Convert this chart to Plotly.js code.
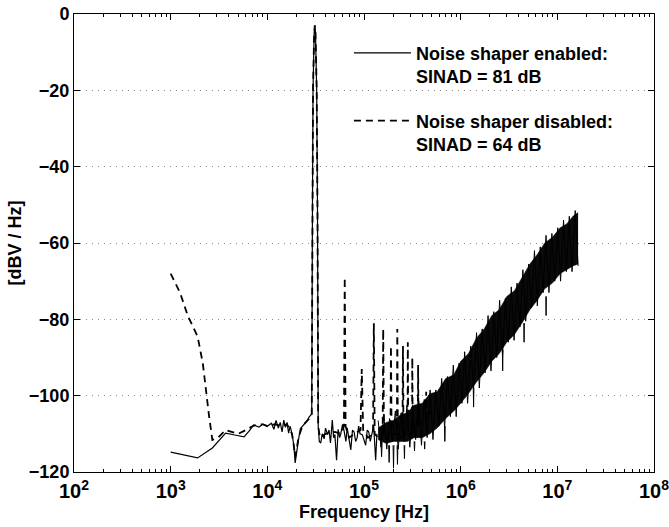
<!DOCTYPE html>
<html>
<head>
<meta charset="utf-8">
<script src="https://cdn.plot.ly/plotly-3.0.1.min.js"></script>
<style>html,body{margin:0;padding:0;background:#fff;}#chart{width:669px;height:527px;}</style>
</head>
<body>
<div id="chart"></div>
<script>
// Noise shaper enabled (solid) — low-frequency part, fundamental and low noise floor
const enabledFreq = [1000, 1900, 2700, 3700, 4600, 5750, 6500, 7200, 8200, 9000, 10000, 11000, 11700, 12300, 13000, 13600, 14200, 14800, 15400, 16000, 16600, 17200, 18000, 18800, 19400, 20000, 21000, 22000, 23000, 24600, 26000, 27000, 28000, 28800, 29300, 29700, 30500, 31000, 31500, 32400, 33000, 33600, 34500, 35700, 37000, 38700, 40000, 42000, 43500, 45000, 47000, 48500, 50000, 52000, 54000, 56000, 57500, 60000, 62000, 65000, 67000, 70000, 73000, 76000, 79000, 82000, 85000, 88000, 91000, 96000, 100000, 104000, 108000, 112000, 116000, 120000, 126000, 132000, 136000];
const enabledDb = [-114.8, -116.3, -113.7, -109.8, -110.3, -110.8, -109.2, -107.7, -108.2, -107.5, -108.0, -107.2, -108.8, -106.5, -108.5, -107.0, -109.5, -106.4, -108.3, -107.0, -109.8, -108.0, -110.0, -113.0, -117.6, -115.0, -111.6, -108.6, -108.0, -107.0, -106.5, -105.6, -105.0, -104.8, -50, -20, -5, -3, -5, -20, -50, -108, -112.0, -112.4, -110.0, -111.3, -108.5, -110.2, -109.0, -112.4, -106.4, -111.0, -110.2, -116.9, -108.8, -111.0, -110.0, -107.5, -109.0, -112.0, -108.4, -111.0, -114.2, -109.0, -109.5, -112.0, -111.0, -108.0, -110.0, -110.2, -111.5, -113.0, -109.0, -109.5, -112.0, -110.0, -108.0, -116.9, -110.0];

// Noise shaper enabled — shaped noise rising with frequency (read as a zigzag between band edges)
const enabledBandFreq = [140000, 150000, 160000, 172000, 184000, 197000, 211000, 226000, 242000, 260000, 278000, 298000, 320000, 342000, 367000, 393000, 420000, 450000, 483000, 517000, 554000, 594000, 636000, 682000, 730000, 783000, 839000, 899000, 963000, 1030000, 1100000, 1180000, 1270000, 1360000, 1460000, 1560000, 1670000, 1790000, 1920000, 2060000, 2200000, 2360000, 2530000, 2710000, 2900000, 3110000, 3340000, 3570000, 3830000, 4100000, 4400000, 4710000, 5050000, 5410000, 5800000, 6210000, 6660000, 7130000, 7640000, 8190000, 8780000, 9400000, 10100000, 10800000, 11600000, 12400000, 13300000, 14200000, 15300000, 16400000];
const enabledBandDb = [-106.5, -113.5, -105, -114, -106, -112, -104, -114, -104.5, -112, -102.5, -113.5, -102.5, -111.5, -100.5, -113, -101, -111, -98.5, -111.5, -98.5, -108, -95.5, -108.5, -95, -105.5, -92, -105.5, -91.5, -102, -88.5, -102, -87, -98, -83.5, -98, -82.5, -94, -79, -93.5, -78, -90, -75, -89.5, -74.5, -86, -71.5, -85.5, -70.5, -82, -67, -80.5, -65.5, -77, -62, -76.5, -61, -73, -58, -73, -57.5, -70, -56, -70, -54, -67.5, -53, -67.5, -51.5, -66];

// Dense core of the noise band: upper and lower envelopes
const bandFreq = [140000, 170000, 200000, 240000, 280000, 330000, 400000, 480000, 570000, 700000, 850000, 1000000, 1200000, 1450000, 1750000, 2100000, 2500000, 3000000, 3600000, 4300000, 5200000, 6200000, 7400000, 8900000, 10700000, 12500000, 14500000, 16400000];
const bandUpper = [-108.5, -107, -106.5, -105, -104.5, -102.5, -102, -99.5, -99, -95.5, -94.5, -91, -89, -85, -82.5, -79, -77.5, -74, -72.5, -69, -65.5, -63, -60, -58.5, -56, -55, -53, -52];
const bandLower = [-111.5, -112.5, -112, -112, -112, -111, -111, -110, -108.5, -106, -104, -102, -99.5, -96.5, -94, -91, -89, -86, -84, -81, -77.5, -75, -72, -70.5, -68, -67, -66, -65.5];

// Downward noise spikes below the band (null separates spikes)
const spikeFreq = [150000, 152000, 154000, null, 180000, 182000, 184000, null, 200000, 202000, 204000, null, 220000, 222000, 224000, null, 260000, 262000, 264000, null, 330000, 333000, 336000, null, 420000, 424000, 428000, null, 680000, 686000, 692000, null, 1350000, 1360000, 1370000, null, 2700000, 2720000, 2740000, null, 4500000, 4530000, 4560000, null, 7600000, 7650000, 7700000];
const spikeDb = [-112, -116, -112, null, -113, -117.5, -113, null, -113, -119, -113, null, -113, -118, -113, null, -113, -116.5, -113, null, -112, -114.5, -112, null, -112, -114, -112, null, -108, -112, -108, null, -98, -103, -98, null, -88, -93.5, -88, null, -81, -86, -81, null, -74, -79, -74];

// Noise shaper disabled (dashed)
const disabledFreq = [1000, 1250, 1500, 1700, 1900, 2150, 2300, 2500, 2700, 3100, 3700, 4300, 5000, 6000, 7000, 8000, 9000, 10000, 12000, 14000, 16000, 18000, 19500, 21000, 23000, 26000, 28500, 28800, 29300, 29700, 30500, 31000, 31500, 32400, 33000, 33600, 35000, 40000, 50000, 58000, 62000, 63200, 64500, 70000, 80000, 92000, 94800, 98000, 110000, 124000, 126400, 129000, 140000, 156000, 158000, 161000, 175000, 188000, 190000, 193000, 205000, 219000, 221000, 224000, 237000, 250000, 253000, 256000, 270000, 282000, 284000, 287000, 300000, 314000, 316000, 319000, 340000, 360000, 363000, 366000, 400000, 437000, 440000, 445000, 500000];
const disabledDb = [-68, -73, -79, -82, -84.5, -91.5, -98.5, -105.5, -111.6, -111, -109, -109.5, -110, -109, -108, -107.5, -107.5, -108, -107.5, -108, -107.5, -110, -116, -111, -108, -106.5, -105.5, -105, -50, -20, -5, -3, -5, -20, -50, -108, -111, -110, -109.5, -110, -108, -69, -108, -111, -110, -109, -93, -109, -111, -110, -81, -110, -111, -110, -82.5, -110, -111, -109, -87, -110, -110, -110, -82.5, -110, -111, -110, -87, -110, -110, -110, -86, -110, -110, -110, -90, -110, -108, -108, -92, -108, -106, -106, -99, -106, -104];

const legendEnabled = 'Noise shaper enabled:<br>SINAD = 81 dB';
const legendDisabled = 'Noise shaper disabled:<br>SINAD = 64 dB';

const traces = [
  {x: bandFreq, y: bandUpper, type: 'scatter', mode: 'lines', line: {color: '#000', width: 0.5}, showlegend: false, hoverinfo: 'skip'},
  {x: bandFreq, y: bandLower, type: 'scatter', mode: 'lines', line: {color: '#000', width: 0.5}, fill: 'tonexty', fillcolor: '#0a0a0a', showlegend: false, hoverinfo: 'skip'},
  {x: spikeFreq, y: spikeDb, type: 'scatter', mode: 'lines', line: {color: '#000', width: 1}, showlegend: false, connectgaps: false, hoverinfo: 'skip'},
  {x: enabledBandFreq, y: enabledBandDb, type: 'scatter', mode: 'lines', line: {color: '#000', width: 1}, showlegend: false, hoverinfo: 'skip'},
  {x: enabledFreq, y: enabledDb, type: 'scatter', mode: 'lines', name: legendEnabled, legendgroup: 'a', line: {color: '#000', width: 1.2}},
  {x: disabledFreq, y: disabledDb, type: 'scatter', mode: 'lines', name: legendDisabled, legendgroup: 'b', line: {color: '#000', width: 1.8, dash: '7px,5px'}}
];

const font = {family: 'Liberation Sans, Arial, Helvetica, sans-serif', color: '#000', weight: 'bold'};

const layout = {
  width: 669, height: 527,
  margin: {l: 74, r: 15, t: 14, b: 55},
  paper_bgcolor: '#fff', plot_bgcolor: '#fff',
  font: Object.assign({size: 18}, font),
  showlegend: true,
  xaxis: {
    type: 'log', range: [2, 8],
    tickmode: 'linear', tick0: 0, dtick: 1,
    exponentformat: 'power', showexponent: 'all',
    tickfont: Object.assign({size: 16}, font),
    ticklabeloverflow: 'allow',
    ticks: 'inside', ticklen: 6, tickcolor: '#000', tickwidth: 1,
    ticklabelstandoff: 2,
    minor: {ticks: 'inside', ticklen: 3, tickcolor: '#000', dtick: 'D1', showgrid: false},
    showline: true, linecolor: '#000', linewidth: 1, mirror: 'ticks',
    showgrid: false, zeroline: false,
    title: {text: 'Frequency [Hz]', font: Object.assign({size: 18}, font), standoff: 4}
  },
  yaxis: {
    range: [-120, 0], dtick: 20, tick0: 0,
    tickfont: Object.assign({size: 18}, font),
    ticks: 'inside', ticklen: 6, tickcolor: '#000',
    showline: true, linecolor: '#000', linewidth: 1, mirror: 'ticks',
    showgrid: true, gridcolor: '#8a8a8a', gridwidth: 1, griddash: '1px,5px',
    zeroline: false,
    title: {text: '[dBV / Hz]', font: Object.assign({size: 18}, font), standoff: 2}
  },
  legend: {
    x: 0.474, y: 0.955, xanchor: 'left', yanchor: 'top',
    bgcolor: 'rgba(0,0,0,0)', borderwidth: 0,
    font: Object.assign({size: 18}, font),
    valign: 'top', traceorder: 'grouped', tracegroupgap: 18,
    itemwidth: 57
  }
};

Plotly.newPlot('chart', traces, layout, {staticPlot: true, displayModeBar: false});
</script>
</body>
</html>
